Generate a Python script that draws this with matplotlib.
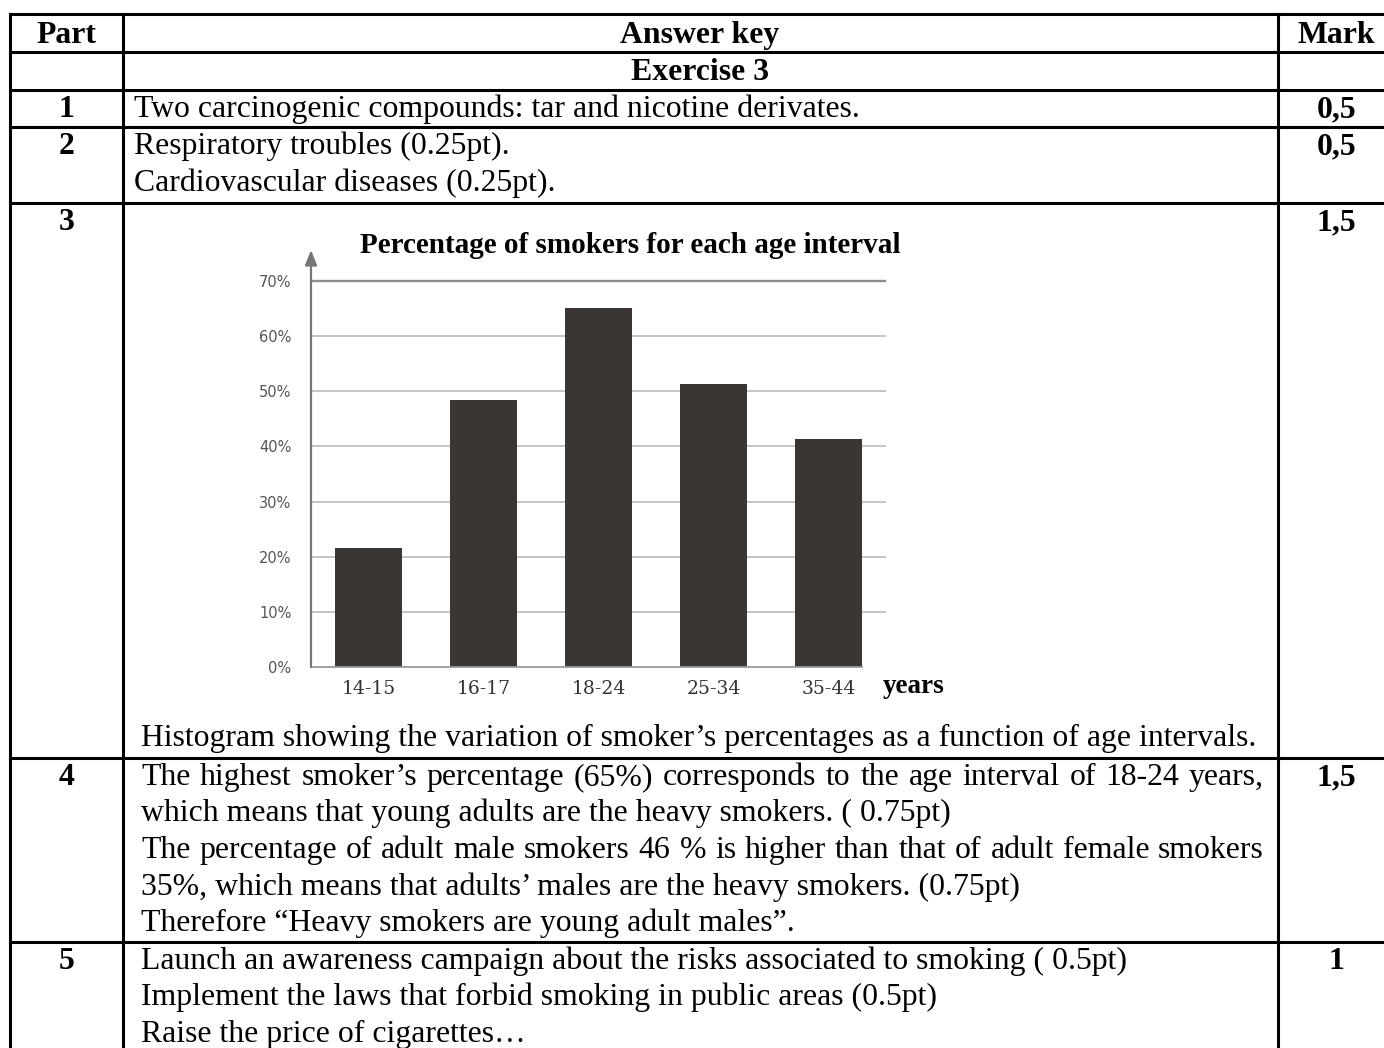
import matplotlib
matplotlib.use("Agg")
import matplotlib.pyplot as plt
import numpy as np

# chart data
age_groups = ["14-15", "16-17", "18-24", "25-34", "35-44"]
smokers_pct = [21.5, 48.4, 65, 51.3, 41.3]
pct_ticks = [0, 10, 20, 30, 40, 50, 60, 70]

# answer key table
parts = ["1", "2", "3", "4", "5"]
marks = ["0,5", "0,5", "1,5", "1,5", "1"]
answer_1 = ["Two carcinogenic compounds: tar and nicotine derivates."]
answer_2 = ["Respiratory troubles (0.25pt).",
            "Cardiovascular diseases (0.25pt)."]
answer_3 = "Histogram showing the variation of smoker\u2019s percentages as a function of age intervals."
answer_4 = ["The highest smoker\u2019s percentage (65%) corresponds to the age interval of 18-24 years,",
            "which means that young adults are the heavy smokers. ( 0.75pt)",
            "The percentage of adult male smokers 46 % is higher than that of adult female smokers",
            "35%, which means that adults\u2019 males are the heavy smokers. (0.75pt)",
            "Therefore \u201cHeavy smokers are young adult males\u201d."]
justify_4 = [True, False, True, False, False]
answer_5 = ["Launch an awareness campaign about the risks associated to smoking ( 0.5pt)",
            "Implement the laws that forbid smoking in public areas (0.5pt)",
            "Raise the price of cigarettes\u2026"]

plt.rcParams["font.family"] = ["Liberation Serif", "DejaVu Serif"]

W, H = 1384, 1048
fig = plt.figure(figsize=(W / 100, H / 100), dpi=100)

# page axes in pixel units, y pointing down
page = fig.add_axes([0, 0, 1, 1])
page.set_xlim(0, W)
page.set_ylim(H, 0)
page.axis("off")

FS = 22.9
LEAD = 36.5
row_lines = [14, 52, 90, 127, 203, 758, 942]
col_lines = [10, 123, 1278]
for y in row_lines:
    page.plot([col_lines[0], W + 20], [y, y], color="black", lw=2.2, solid_capstyle="projecting")
for x in col_lines:
    page.plot([x, x], [row_lines[0], H + 20], color="black", lw=2.2, solid_capstyle="projecting")

c_part, c_ans, c_mark = 66.5, 700, 1336.5

page.text(c_part, 43, "Part", ha="center", va="baseline", fontsize=FS, weight="bold")
page.text(c_ans, 43, "Answer key", ha="center", va="baseline", fontsize=FS, weight="bold")
page.text(c_mark, 43, "Mark", ha="center", va="baseline", fontsize=FS, weight="bold")
page.text(c_ans, 80, "Exercise 3", ha="center", va="baseline", fontsize=FS, weight="bold")

first_base = [117, 154, 230, 785, 969]
for p, m, yb in zip(parts, marks, first_base):
    page.text(c_part, yb, p, ha="center", va="baseline", fontsize=FS, weight="bold")
    page.text(c_mark, yb, m, ha="center", va="baseline", fontsize=FS, weight="bold")

renderer = fig.canvas.get_renderer()


def put_line(x0, y, line, justify=False, x1=1264):
    if not justify:
        page.text(x0, y, line, ha="left", va="baseline", fontsize=FS)
        return
    words = line.split(" ")
    arts = [page.text(0, y, w, ha="left", va="baseline", fontsize=FS) for w in words]
    widths = [a.get_window_extent(renderer).width for a in arts]
    gap = (x1 - x0 - sum(widths)) / (len(words) - 1)
    pos = x0
    for a, w in zip(arts, widths):
        a.set_x(pos)
        pos += w + gap


for i, line in enumerate(answer_1):
    put_line(134, 117 + i * LEAD, line)
for i, line in enumerate(answer_2):
    put_line(134, 154 + i * LEAD, line)
put_line(141, 746, answer_3)
for i, (line, j) in enumerate(zip(answer_4, justify_4)):
    put_line(141, 785 + i * LEAD, line, justify=j)
for i, line in enumerate(answer_5):
    put_line(141, 969 + i * LEAD, line)

# embedded bar chart
ax = fig.add_axes([311 / W, (H - 667) / H, 575 / W, 417 / H])
x = np.arange(len(age_groups))
ax.set_xlim(-0.5, 4.5)
ax.set_ylim(0, 75.6)
for v in pct_ticks[1:-1]:
    ax.axhline(v, color="#b4b4b4", lw=1.1, zorder=0)
ax.axhline(pct_ticks[-1], color="#8c8c8c", lw=1.7, zorder=0)
ax.bar(x, smokers_pct, width=0.574, color="#3b3634", zorder=2)

for s in ["top", "right", "left"]:
    ax.spines[s].set_visible(False)
ax.spines["bottom"].set_color("#9a9a9a")
ax.spines["bottom"].set_linewidth(1.3)
ax.spines["bottom"].set_bounds(-0.5, 4.29)
ax.annotate("", xy=(0, 1), xytext=(0, 0), xycoords="axes fraction",
            arrowprops=dict(arrowstyle="-|>,head_length=0.5,head_width=0.2",
                            color="#777777", lw=1.6, mutation_scale=18, shrinkA=0, shrinkB=0))

ax.set_yticks(pct_ticks)
ax.set_yticklabels([f"{v}%" for v in pct_ticks], family="DejaVu Sans", fontsize=10.5,
                   color="#555555")
ax.set_xticks(x)
ax.set_xticklabels(age_groups, family="DejaVu Serif", fontsize=13.5, color="#333333")
ax.tick_params(axis="y", length=0, pad=14)
ax.tick_params(axis="x", length=0, pad=9)
ax.patch.set_alpha(0)

page.text(630, 253, "Percentage of smokers for each age interval", ha="center",
          va="baseline", fontsize=21, weight="bold")
page.text(883, 693, "years", ha="left", va="baseline", fontsize=19.5, weight="bold")

fig.savefig("out.png", dpi=100)
